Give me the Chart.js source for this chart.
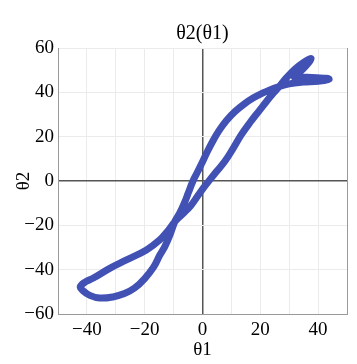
<!DOCTYPE html>
<html>
<head>
<meta charset="utf-8">
<script src="https://cdn.jsdelivr.net/npm/chart.js@4.4.1/dist/chart.umd.min.js"></script>
<style>
  html, body { margin: 0; padding: 0; background: #fff; }
  #wrap { width: 357px; height: 364px; }
</style>
</head>
<body>
<div id="wrap"><canvas id="chart" width="357" height="364"></canvas></div>
<script>
// θ1 / θ2 trajectory (closed loop)
const theta1 = [
  // right line going up, upper tip, right tip
  24.4, 26.5, 29, 32, 35, 37.5, 36.4, 34.2, 31.8, 35, 39.5, 43.8, 40, 35, 30, 26,
  // left line going down
  23.5, 20.7, 17.5, 14.4, 11.3, 8.3, 5.6, 3.4, 1.4, -0.5, -2, -3.3, -4.8, -6.3, -7.9, -9.6,
  // lower branch of the bottom lobe
  -11.3, -13, -14.8, -17, -20, -23.5, -27, -31, -35.6, -39, -41.3, -42.3,
  // upper branch of the bottom lobe
  -40.5, -37.9, -32.1, -26.3, -19.4, -14.8, -12, -9.6,
  // right line going up
  -6.8, -4, -1.8, 0.4, 2.5, 5, 7.8, 10.5, 13.5, 16.5, 19.8, 22.2, 24.4
];
const theta2 = [
  39.5, 42.5, 46.5, 50.5, 53.5, 55.3, 52.8, 49.8, 46.8, 46.8, 46.6, 46, 45, 44.6, 43.8, 42.4,
  41.2, 39.6, 37.4, 34.7, 31.4, 27.3, 22.5, 17.6, 12.5, 7.3, 3.4, 0, -5, -10, -14.5, -18.4,
  -24.5, -29.5, -33.5, -39, -44, -48.3, -50.8, -52.3, -52.8, -51.6, -49.6, -47.7,
  -45.5, -43.9, -39.4, -35.6, -31.1, -26.6, -22.5, -18.4,
  -14.8, -11, -7, -3, 0.5, 4.5, 9, 14.5, 21, 26.5, 32, 36, 39.5
];
const xTicks = [-40, -20, 0, 20, 40];
const yTicks = [-60, -40, -20, 0, 20, 40, 60];
const titleText = 'θ2(θ1)';

const serif = '"Liberation Serif", "DejaVu Serif", serif';
const minus = v => (v < 0 ? '\u2212' + Math.abs(v) : String(v));

const points = theta1.map((t, i) => ({ x: t, y: theta2[i] }));

// title centred over the plot area, not over the whole canvas
const plotTitle = {
  id: 'plotTitle',
  afterDraw(chart) {
    const { ctx, chartArea } = chart;
    ctx.save();
    ctx.font = '20px ' + serif;
    ctx.fillStyle = '#000';
    ctx.textAlign = 'center';
    ctx.textBaseline = 'middle';
    ctx.fillText(titleText, (chartArea.left + chartArea.right) / 2, 34);
    ctx.restore();
  }
};

const gridColor = c => (c.tick && c.tick.value === 0 ? '#555' : '#ebebeb');
const gridWidth = c => (c.tick && c.tick.value === 0 ? 1.5 : 1);

new Chart(document.getElementById('chart'), {
  type: 'scatter',
  data: {
    datasets: [{
      data: points,
      showLine: true,
      borderColor: 'rgb(66, 82, 180)',
      borderWidth: 7,
      borderJoinStyle: 'round',
      borderCapStyle: 'round',
      tension: 0.4,
      pointRadius: 0,
      fill: false
    }]
  },
  options: {
    responsive: false,
    animation: false,
    layout: { padding: { top: 48 } },
    plugins: {
      legend: { display: false },
      tooltip: { enabled: false },
      title: { display: false }
    },
    scales: {
      x: {
        type: 'linear',
        min: -50, max: 50,
        afterFit: s => { s.height = 50; },
        ticks: {
          stepSize: 10,
          autoSkip: false,
          maxRotation: 0,
          padding: 5,
          color: '#000',
          font: { family: serif, size: 19 },
          callback: v => (xTicks.includes(v) ? minus(v) : '')
        },
        grid: { drawTicks: false, color: gridColor, lineWidth: gridWidth },
        border: { display: true, color: '#999' },
        title: {
          display: true, text: 'θ1', color: '#000',
          font: { family: serif, size: 19, lineHeight: 1.2 },
          padding: { top: 0, bottom: 3 }
        }
      },
      y: {
        type: 'linear',
        position: 'left',
        min: -60, max: 60,
        afterFit: s => { s.width = 58; },
        afterBuildTicks: s => { s.ticks = yTicks.map(v => ({ value: v })); },
        ticks: {
          padding: 4,
          color: '#000',
          font: { family: serif, size: 19 },
          callback: v => minus(v)
        },
        grid: { drawTicks: false, color: gridColor, lineWidth: gridWidth },
        border: { display: true, color: '#999' },
        title: {
          display: true, text: 'θ2', color: '#000',
          font: { family: serif, size: 19, lineHeight: 1.2 },
          padding: { top: 13, bottom: 0 }
        }
      },
      yR: {
        type: 'linear',
        position: 'right',
        min: -60, max: 60,
        afterFit: s => { s.width = 10; },
        ticks: { display: false },
        grid: { display: false },
        border: { display: true, color: '#999' }
      }
    }
  },
  plugins: [plotTitle]
});
</script>
</body>
</html>
